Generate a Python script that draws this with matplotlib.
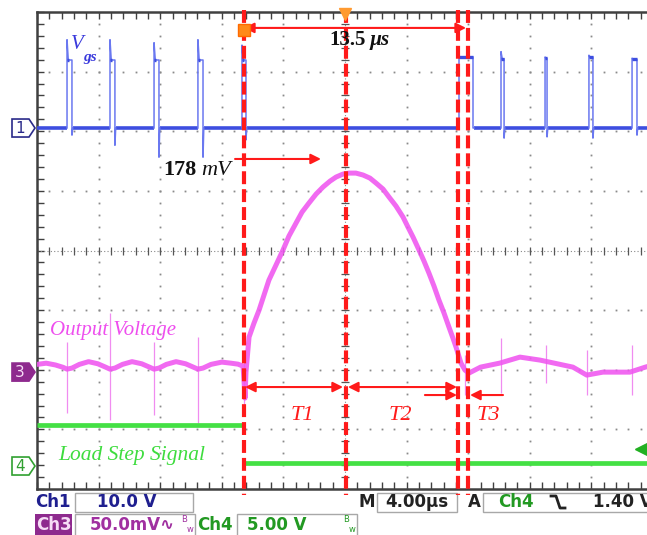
import numpy as np
import matplotlib
matplotlib.use("Agg")
import matplotlib.pyplot as plt
from matplotlib.patches import Rectangle, Polygon

# horizontal: 4 us/div, 10 div ; vertical: 8 div
T_DIV = 4.0

# Ch1  Vgs  (10 V/div) - gate pulses, times in us, levels in V
ch1_rise = [1.95, 4.74, 7.60, 10.45, 13.31, 27.40, 30.13, 32.99, 35.84, 38.64]
ch1_fall = [2.27, 5.06, 7.92, 10.78, 13.57, 28.31, 30.33, 33.12, 36.10, 38.96]
ch1_peak = [14.8, 14.8, 14.3, 14.8, 13.9, 11.9, 12.8, 11.9, 12.2, 11.7]
ch1_top = [11.4, 11.4, 11.4, 11.4, 11.4, 11.9, 11.6, 11.7, 11.9, 11.5]
ch1_under = [-1.2, -2.9, -4.9, -4.9, -2.0, 0.0, -1.7, -1.5, -1.7, -1.2]

# Ch3  output voltage (50 mV/div, AC coupled)
ch3_t = [0.0, 0.6, 1.2, 1.7, 1.95, 2.27, 2.75, 3.35, 3.95, 4.45, 4.74, 5.06, 5.55, 6.17,
         6.8, 7.3, 7.60, 7.92, 8.4, 9.03, 9.65, 10.15, 10.45, 10.78, 11.3, 12.0, 12.6,
         13.05, 13.38, 13.44, 13.51, 13.57, 13.77, 14.09, 14.42, 14.74, 15.06, 15.52,
         15.97, 16.36, 16.82, 17.21, 17.66, 18.12, 18.57, 19.03, 19.42, 19.87, 20.26,
         20.71, 21.17, 21.62, 22.01, 22.47, 22.86, 23.31, 23.77, 24.09, 24.42, 24.81,
         25.13, 25.45, 25.78, 26.10, 26.43, 26.75, 27.01, 27.21, 27.53, 27.79, 28.05,
         28.80, 30.06, 31.36, 32.66, 34.80, 35.70, 36.75, 38.50, 39.50, 40.0]
ch3_mv = [6.5, 7.5, 6.0, 4.0, 2.5, 3.4, 6.5, 8.8, 7.0, 4.2, 2.5, 3.4, 6.5, 8.8,
          7.0, 4.2, 2.5, 3.4, 6.5, 8.8, 7.0, 4.2, 2.5, 3.4, 6.5, 8.4, 7.5,
          6.7, 5.0, -6.7, -21.8, 0.0, 29.4, 41.1, 52.0, 64.6, 77.2, 89.8,
          102.3, 114.1, 125.0, 134.2, 141.8, 149.3, 155.2, 160.2, 163.6, 166.1, 166.9,
          166.9, 165.3, 162.7, 158.6, 153.5, 146.8, 139.3, 130.0, 121.6, 113.2, 102.3,
          93.1, 83.1, 72.1, 60.4, 49.5, 37.8, 28.5, 21.0, 7.6, 1.7, -0.8,
          4.2, 7.6, 12.6, 10.1, 4.2, -2.5, 0.0, 0.0, 4.2, 6.0]
ch3_spike_t = [1.95, 4.74, 7.60, 10.45, 13.44, 27.79, 30.13, 33.05, 35.71, 38.64]
ch3_spike_lo = [-34.4, -40.3, -36.1, -42.8, -29.4, -19.3, -17.6, -9.2, -19.3, -19.3]
ch3_spike_hi = [25.2, 49.5, 25.2, 29.4, 18.5, 14.3, 28.5, 22.6, 18.5, 22.6]

# Ch4  load step signal (5 V/div)
ch4_step_t = 13.47
ch4_levels = [3.44, 0.25]
ch4_trig = 1.40

# channel ground offsets, divisions
ch1_off, ch3_off, ch4_off = 2.055, -2.04, -3.616

# annotation cursors (us)
cursor_t = [13.44, 20.06, 27.34, 27.99]

RED = "#FF1A1A"
BLUE = "#3D4EE0"
MAG = "#F055F0"
GRN = "#44E044"

fig = plt.figure(figsize=(6.47, 5.35), dpi=100)
ov = fig.add_axes([0, 0, 1, 1])
ov.set_xlim(0, 647)
ov.set_ylim(535, 0)
ov.axis("off")

ax = fig.add_axes([37 / 647, 46 / 535, 616 / 647, 477 / 535])
ax.set_zorder(1)
ax.set_xlim(0, 10 * T_DIV)
ax.set_ylim(-4, 4)

# --- screen frame, grid, ticks
for s in ["left", "top", "bottom"]:
    ax.spines[s].set_color("#404040")
    ax.spines[s].set_linewidth(1.8)
ax.spines["right"].set_visible(False)
ax.set_xticks([])
ax.set_yticks([])
ax.set_xticks(np.arange(0, 40.01, 0.8), minor=True)
ax.set_yticks(np.arange(-4, 4.01, 0.2), minor=True)
ax.tick_params(which="minor", direction="in", length=5, width=1, color="#404040",
               top=True, bottom=True, left=True, right=False,
               labelbottom=False, labelleft=False)

gy = np.arange(-4, 4.01, 0.2)
gx = np.arange(0, 40.01, 0.8)
for k in range(1, 10):
    if k == 5:
        continue
    ax.plot(np.full_like(gy, k * T_DIV), gy, ls="none", marker="s", ms=1.3, color="#8A8A8A", mew=0)
for j in [-3, -2, -1, 1, 2, 3]:
    ax.plot(gx, np.full_like(gx, j), ls="none", marker="s", ms=1.3, color="#8A8A8A", mew=0)
ax.axhline(0, color="#888888", lw=0.8, ls=(0, (1, 2)))
ax.axvline(20, color="#888888", lw=0.8, ls=(0, (1, 2)))
ax.plot(gx, np.zeros_like(gx), ls="none", marker="|", ms=6, mew=0.9, color="#555555")
ax.plot(np.full_like(gy, 20), gy, ls="none", marker="_", ms=6, mew=0.9, color="#555555")

# --- Ch1
edges = [0.0] + ch1_fall
starts = ch1_rise + [40.0]
seg_lo = [e + 0.05 for e in edges]
seg_lo[0] = 0.0
ax.hlines(np.full(len(starts), ch1_off), seg_lo, starts, color=BLUE, lw=2.6, zorder=3)
for i, (r, f, pk, tp, un) in enumerate(zip(ch1_rise, ch1_fall, ch1_peak, ch1_top, ch1_under)):
    xs = [r, r, r + 0.08, f, f, f + 0.05]
    ys = [0, pk, tp, tp, un, 0]
    ax.plot(xs, [ch1_off + v / 10 for v in ys], color="#6A78F0", lw=1.1, zorder=3)
    blob_end = f if i >= 5 else r + 0.12
    ax.plot([r, blob_end], [ch1_off + tp / 10] * 2, color=BLUE, lw=2.4, zorder=3,
            solid_capstyle="butt")

# --- Ch3
ax.vlines(ch3_spike_t, [ch3_off + v / 50 for v in ch3_spike_lo],
          [ch3_off + v / 50 for v in ch3_spike_hi], color="#F08CF0", lw=0.9, zorder=3)
ax.plot(ch3_t, [ch3_off + v / 50 for v in ch3_mv], color=MAG, lw=3.6, alpha=0.88,
        zorder=4, solid_joinstyle="round")

# --- Ch4
ax.hlines([ch4_off + ch4_levels[0] / 5], 0, ch4_step_t, color=GRN, lw=3.4, zorder=3)
ax.hlines([ch4_off + ch4_levels[1] / 5], ch4_step_t, 40, color=GRN, lw=3.4, zorder=3)
ax.plot([39.2], [ch4_off + ch4_trig / 5], marker="<", ms=8, color="#22B022", zorder=5)

# --- trace labels
serif = "Liberation Serif"
ax.text(2.2, 3.45, "V", color="#3A3ADC", fontsize=15, family=serif, style="italic",
        va="center", ha="left", zorder=6)
ax.text(3.0, 3.24, "gs", color="#3A3ADC", fontsize=11, family=serif, style="italic",
        weight="bold", va="center", ha="left", zorder=6)
ax.text(0.84, -1.35, "Output Voltage", color="#EE4EEE", fontsize=15, family=serif,
        style="italic", va="center", ha="left", zorder=6)
ax.text(1.36, -3.43, "Load Step Signal", color="#3EDC3E", fontsize=15.5, family=serif,
        style="italic", va="center", ha="left", zorder=6)

# --- red cursors and arrows
for c in cursor_t:
    ax.plot([c, c], [4.03, -4.1], color=RED, lw=3, ls=(0, (3.1, 1.2)), zorder=7,
            clip_on=False)


def arrow(x1, x2, y, style):
    ax.annotate("", xy=(x2, y), xytext=(x1, y), zorder=8,
                arrowprops=dict(arrowstyle=style + ",head_length=0.6,head_width=0.3",
                                color=RED, lw=1.5, shrinkA=0, shrinkB=0))


arrow(13.44, 27.86, 3.733, "<|-|>")
arrow(12.86, 18.44, 1.535, "-|>")
arrow(13.51, 19.87, -2.29, "<|-|>")
arrow(20.19, 27.27, -2.29, "<|-|>")
arrow(25.19, 27.27, -2.424, "-|>")
arrow(30.26, 28.12, -2.424, "-|>")

ax.text(21.36, 3.53, "13.5", fontsize=15, family=serif, weight="bold", ha="right",
        va="center", color="#111111", zorder=8)
ax.text(21.6, 3.53, "µs", fontsize=15, family=serif, weight="bold", style="italic",
        ha="left", va="center", color="#111111", zorder=8)
ax.text(10.37, 1.35, "178", fontsize=16, family=serif, weight="bold", ha="right",
        va="center", color="#111111", zorder=8)
ax.text(10.63, 1.35, "mV", fontsize=16, family=serif, style="italic", ha="left",
        va="center", color="#111111", zorder=8)
for lab, tx in [("T1", 17.21), ("T2", 23.57), ("T3", 29.29)]:
    ax.text(tx, -2.76, lab, fontsize=16, family=serif, style="italic", color=RED,
            ha="center", va="center", zorder=8)

# orange cursor / trigger markers
ax.plot([13.44], [3.70], marker="s", ms=8, color="#FF8A1A", mec="#FF6A00", zorder=9,
        clip_on=False)
ax.plot([20.0], [3.97], marker="v", ms=8, color="#FF9A30", zorder=9, clip_on=False)


# --- channel ground markers (left of the screen)
def ch_marker(num, off, face, edge, txt):
    y = 250.5 - off * 59.6
    ov.add_patch(Polygon([(12, y - 9), (29, y - 9), (35, y), (29, y + 9), (12, y + 9)],
                         closed=True, fc=face, ec=edge, lw=1.2))
    ov.text(20, y, num, color=txt, fontsize=11, ha="center", va="center")


ch_marker("1", ch1_off, "white", "#2A2A8A", "#2A2A8A")
ch_marker("3", ch3_off, "#8E2A8E", "#8E2A8E", "#F6DDF6")
ch_marker("4", ch4_off, "white", "#30A030", "#30A030")

# --- status bar
sb = dict(fontsize=12, family="DejaVu Sans", weight="bold", va="center")
ov.text(35, 502, "Ch1", color="#1F1F8F", ha="left", **sb)
ov.add_patch(Rectangle((75, 493), 118, 19, fc="white", ec="#A8A8A8", lw=1))
ov.text(127, 502, "10.0 V", color="#1F1F8F", ha="center", **sb)

ov.add_patch(Rectangle((35, 514), 37, 22, fc="#8E2A8E", ec="none"))
ov.text(36, 525, "Ch3", color="#F6DDF6", ha="left", **sb)
ov.add_patch(Rectangle((75, 514), 120, 22, fc="white", ec="#A8A8A8", lw=1))
ov.text(90, 525, "50.0mV∿", color="#A030A0", ha="left", **sb)
ov.text(181, 519, "B", color="#A030A0", fontsize=6, ha="left", va="center")
ov.text(187, 529, "w", color="#A030A0", fontsize=6, ha="left", va="center")
ov.text(197, 525, "Ch4", color="#229922", ha="left", **sb)
ov.add_patch(Rectangle((237, 514), 120, 22, fc="white", ec="#A8A8A8", lw=1))
ov.text(247, 525, "5.00 V", color="#229922", ha="left", **sb)
ov.text(343, 519, "B", color="#229922", fontsize=6, ha="left", va="center")
ov.text(349, 529, "w", color="#229922", fontsize=6, ha="left", va="center")

ov.text(358, 502, "M", color="#222222", ha="left", **sb)
ov.add_patch(Rectangle((377, 493), 80, 19, fc="white", ec="#A8A8A8", lw=1))
ov.text(417, 502, "4.00µs", color="#222222", ha="center", **sb)
ov.text(468, 502, "A", color="#222222", ha="left", **sb)
ov.add_patch(Rectangle((483, 493), 200, 19, fc="white", ec="#A8A8A8", lw=1))
ov.text(498, 502, "Ch4", color="#229922", ha="left", **sb)
ov.plot([551, 556, 560, 565], [496, 496, 508, 508], color="#222222", lw=2)
ov.text(593, 502, "1.40 V", color="#222222", ha="left", **sb)

fig.savefig("out.png", dpi=100, facecolor="white")
